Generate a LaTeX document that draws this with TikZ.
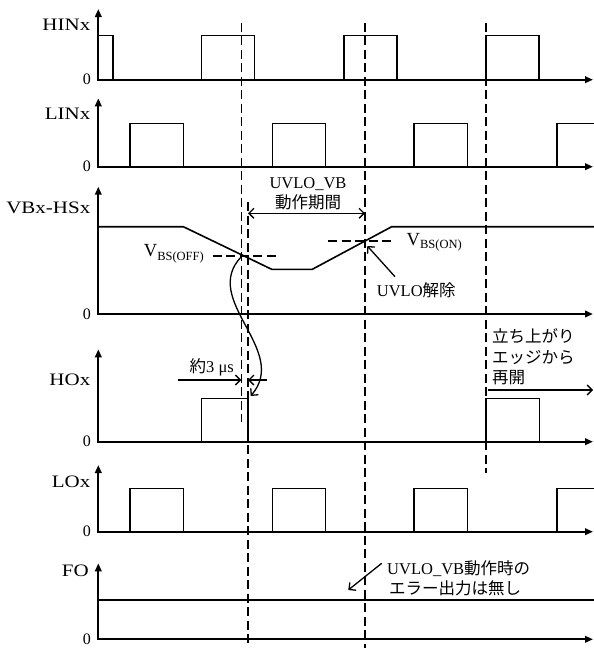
\documentclass[tikz,border=0pt]{standalone}
\usepackage{fontspec}
\setmainfont{Liberation Serif}
\newfontfamily\jp{Noto Sans CJK JP}
\newfontfamily\lblfont[FakeStretch=1.2]{Liberation Serif}
\usetikzlibrary{arrows.meta}
\begin{document}
\begin{tikzpicture}[x=1pt,y=-1pt,
  axis/.style={line width=2pt, line join=miter, {Triangle[length=8pt,width=6.5pt]}-{Triangle[length=8pt,width=6.5pt]}},
  wave/.style={line width=1.6pt, line join=miter},
  guide/.style={line width=1.6pt, dash pattern=on 9pt off 4.5pt},
  note/.style={line width=1.3pt, -{Straight Barb[length=5pt,width=10pt]}},
  sig/.style={font=\lblfont\fontsize{17.5}{19}\selectfont, anchor=east, inner sep=0pt},
  zero/.style={font=\fontsize{16}{18}\selectfont, anchor=east, inner sep=0pt},
  ann/.style={font=\fontsize{16.5}{20}\selectfont, inner sep=0pt},
]
\useasboundingbox (0,0) rectangle (594,648);

% ---------- signal labels ----------
\node[sig] (lhin) at (90.5,25) {HINx};
\node[sig] (llin) at (90.5,113.8) {LINx};
\node[sig] (lvb) at (90.5,208) {VBx-HSx};
\node[sig] (lho) at (90.5,379.7) {HOx};
\node[sig] (llo) at (90.5,482) {LOx};
\node[sig] (lfo) at (89,571) {FO};
\foreach \b/\n in {79.7/zhin,166.7/zlin,314/zvb,441.7/zho,531.7/zlo,639.3/zfo}
  \node[zero] (\n) at (91,\b) {0};

% ---------- axes ----------
\foreach \t/\b in {9/79.7, 98.3/166.7, 186.7/314, 349.3/441.7, 465/531.7, 563.3/639.3}
  \draw[axis] (98.3,\t) -- (98.3,\b) -- (593,\b);

% ---------- HINx ----------
\draw[wave] (98.3,35.3) -- (112.7,35.3) -- (112.7,79.7);
\foreach \s in {201.3,343.7,485.7}
  \draw[wave] (\s,79.7) -- (\s,35.3) -- ({\s+53.3},35.3) -- ({\s+53.3},79.7);

% ---------- LINx / LOx ----------
\foreach \b/\h in {166.7/123.3, 531.7/488.3}{
  \foreach \s in {130,272.3,414}
    \draw[wave] (\s,\b) -- (\s,\h) -- ({\s+53.3},\h) -- ({\s+53.3},\b);
  \draw[wave] (556.7,\b) -- (556.7,\h) -- (594,\h);
}

% ---------- VBx-HSx ----------
\draw[wave] (98.3,226.7) -- (183.3,226.7) -- (271.7,269.3) -- (312.3,269.3) -- (391.7,226.7) -- (594,226.7);
\draw[guide] (212.7,255.7) -- (276,255.7);
\draw[guide] (328.3,241) -- (391.7,241);
\node[anchor=base east, inner sep=0pt, font=\fontsize{18.5}{19}\selectfont] (voff) at (204,256.7)
  {V\raisebox{-3.5pt}{\fontsize{12.5}{13}\selectfont BS(OFF)}};
\node[anchor=base west, inner sep=0pt, font=\fontsize{18.5}{19}\selectfont] (von) at (406.5,245)
  {V\raisebox{-3.5pt}{\fontsize{12.5}{13}\selectfont BS(ON)}};

% ---------- HOx ----------
\draw[wave] (201.3,441.7) -- (201.3,398.3) -- (248,398.3) -- (248,441.7);
\draw[wave] (485.7,441.7) -- (485.7,398.3) -- (539.3,398.3) -- (539.3,441.7);

% ---------- FO ----------
\draw[wave] (98.3,600) -- (594,600);

% ---------- dashed time markers ----------
\coordinate (d1t) at (241.3,22.7);  \coordinate (d1b) at (241.3,421.7);
\coordinate (d1rt) at (248,202);    \coordinate (d1rb) at (248,648);
\coordinate (d2t) at (365,22.7);    \coordinate (d2b) at (365,648);
\coordinate (d3t) at (485.7,22.7);  \coordinate (d3b) at (485.7,473);
\draw[guide] (d1t) -- (d1b);
\draw[guide] (d1rt) -- (d1rb);
\draw[guide] (d2t) -- (d2b);
\draw[guide] (d3t) -- (d3b);

% ---------- UVLO_VB period ----------
\node[ann, align=center] (uvper) at (308,194) {UVLO\_VB\\{\jp 動作期間}};
\coordinate (pa) at (248,213.3);
\coordinate (pb) at (365,213.3);
\draw[note, {Straight Barb[length=5pt,width=10pt]}-{Straight Barb[length=5pt,width=10pt]}] (pa) -- (pb);

% ---------- UVLO release ----------
\node[ann, anchor=west] (rel) at (376.7,290) {UVLO{\jp 解除}};
\coordinate (rels) at (395,276.7);
\coordinate (relt) at (367.3,246);
\draw[note] (rels) -- (relt);

% ---------- curved arrow VBS(OFF) -> HO falling edge ----------
\coordinate (cs) at (241.3,256.7);
\coordinate (ce) at (250.7,396);
\draw[note] (cs) .. controls (200,300) and (290,350) .. (ce);

% ---------- about 3 us ----------
\node[ann] (t3) at (211.7,367.5) {{\jp 約}3 μs};
\coordinate (ta) at (178.3,380); \coordinate (tb) at (241.3,380);
\coordinate (tc) at (266.7,380); \coordinate (td) at (248,380);
\draw[note] (ta) -- (tb);
\draw[note] (tc) -- (td);

% ---------- restart note ----------
\node[ann, anchor=west, align=left, font=\jp\fontsize{16.5}{20.5}\selectfont] (rst) at (492,357) {立ち上がり\\エッジから\\再開};
\coordinate (ra) at (488.3,390); \coordinate (rb) at (593,390);
\draw[note] (ra) -- (rb);

% ---------- FO note ----------
\node[ann, anchor=west, align=left] (fon) at (387,578.5) {UVLO\_VB{\jp 動作時の}\\\hspace*{2pt}{\jp エラー出力は無し}};
\coordinate (fa) at (381.7,563.3); \coordinate (fb) at (348.3,590);
\draw[note] (fa) -- (fb);
\end{tikzpicture}
\end{document}
